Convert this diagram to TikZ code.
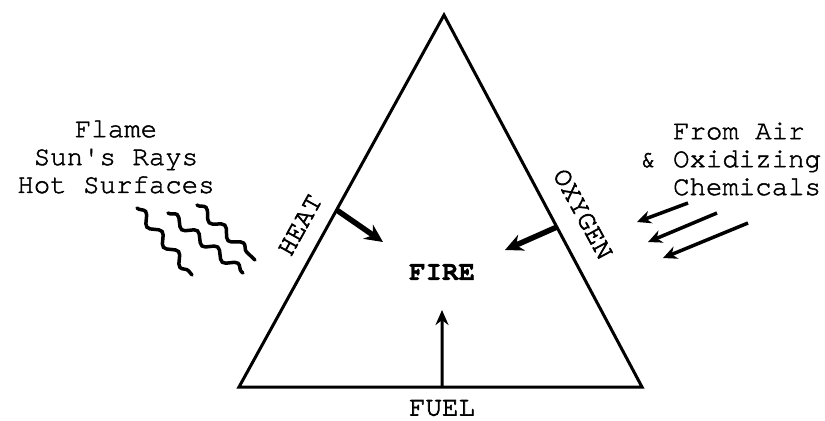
\documentclass[tikz,border=0pt]{standalone}
\usepackage{fontspec}
\newfontfamily\typer[FakeBold=1.6]{TeX Gyre Cursor}
\newfontfamily\typerside[FakeBold=2.6]{TeX Gyre Cursor}
\newfontfamily\typerbf[FakeBold=1.2]{TeX Gyre Cursor Bold}
\usetikzlibrary{arrows.meta,calc,decorations.pathmorphing}

\begin{document}
\begin{tikzpicture}[
  x=1bp, y=-1bp,
  font=\typer\fontsize{27.5}{28}\selectfont,
  txt/.style={inner sep=0pt, align=center},
  sidetxt/.style={txt, font=\typerside\fontsize{27.5}{28}\selectfont},
  side/.style={line width=3bp, line join=miter},
  push/.style={-{Stealth[length=18bp, width=17bp]}, line width=5.5bp},
  feed/.style={-{Stealth[length=15bp, width=13bp]}, line width=3bp},
  air/.style={-{Stealth[length=14bp, width=13bp]}, line width=3.5bp},
  wave/.style={line width=3.5bp, line cap=round, decorate,
               decoration={snake, segment length=26bp, amplitude=4.5bp}},
]
\useasboundingbox (0,0) rectangle (825,420);

% --- triangle ---
\coordinate (apex) at (444,15);
\coordinate (bl) at (239,387);
\coordinate (br) at (642,387);
\draw[side] (apex) -- (br) -- (bl) -- cycle;

% --- centre ---
\node[txt, font=\typerbf\fontsize{27.5}{28}\selectfont] (fire) at (442,272) {FIRE};

% --- side labels ---
\node[sidetxt, rotate=61] (heat) at (300,225) {HEAT};
\node[sidetxt, rotate=-61.5] (oxy) at (583,214) {OXYGEN};
\node[sidetxt] (fuel) at (442,408) {FUEL};

% --- sources ---
\node[txt] (hot) at (116,157) {Flame\\ Sun's Rays\\ Hot Surfaces};
\node[txt, align=left, anchor=west] (air) at (640,159)
  {\hphantom{\&\ }From Air\\ \&\ Oxidizing\\ \hphantom{\&\ }Chemicals};

% --- arrows into the fire ---
\coordinate (heatfoot) at ($(apex)!0.524!(bl)$);
\coordinate (heattip) at (383,242);
\coordinate (oxyfoot) at ($(apex)!0.57!(br)$);
\coordinate (oxytip) at (505,250);
\coordinate (fuelfoot) at ($(bl)!0.504!(br)$);
\coordinate (fueltip) at (442,310);
\draw[push] (heatfoot) -- (heattip);
\draw[push] (oxyfoot) -- (oxytip);
\draw[feed] (fuelfoot) -- (fueltip);

% --- heat rays ---
\coordinate (w1a) at (137,208); \coordinate (w1b) at (192,275);
\coordinate (w2a) at (168,213); \coordinate (w2b) at (243,273);
\coordinate (w3a) at (197,205); \coordinate (w3b) at (255,260);
\draw[wave] (w1a) -- (w1b);
\draw[wave] (w2a) -- (w2b);
\draw[wave] (w3a) -- (w3b);

% --- air supply ---
\coordinate (a1) at (688,203); \coordinate (t1) at (637,222);
\coordinate (a2) at (717,213); \coordinate (t2) at (648,242);
\coordinate (a3) at (748,223); \coordinate (t3) at (663,258);
\draw[air] (a1) -- (t1);
\draw[air] (a2) -- (t2);
\draw[air] (a3) -- (t3);
\end{tikzpicture}
\end{document}
